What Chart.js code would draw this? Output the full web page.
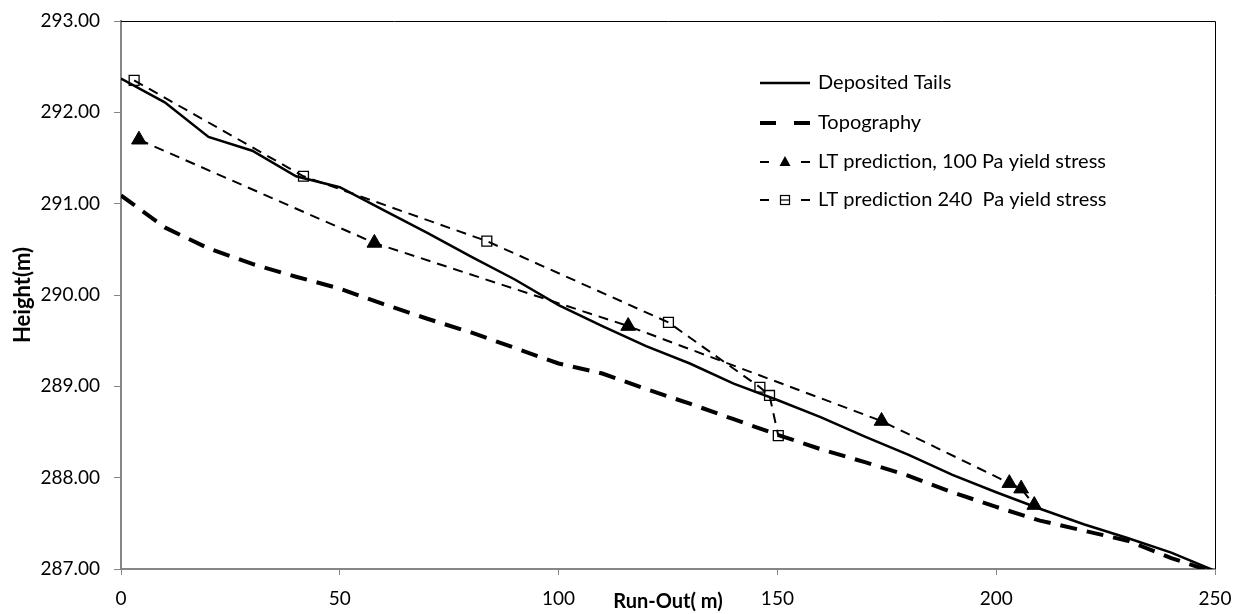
<!DOCTYPE html>
<html>
<head>
<meta charset="utf-8">
<script src="https://cdn.jsdelivr.net/npm/chart.js@4/dist/chart.umd.min.js"></script>
<style>
  html, body { margin: 0; padding: 0; background: #fff; }
  #wrap { width: 1235px; height: 614px; }
</style>
</head>
<body>
<div id="wrap"><canvas id="runout" width="1235" height="614"></canvas></div>
<script>
// values
const xTails = [0, 10, 20, 30, 40, 50, 60, 70, 80, 90, 100, 110, 120, 130, 140, 150, 160, 170, 180, 190, 200, 210, 220, 230, 240, 250];
const yTails = [292.37, 292.11, 291.73, 291.58, 291.30, 291.18, 290.93, 290.68, 290.42, 290.17, 289.89, 289.66, 289.44, 289.25, 289.03, 288.85, 288.66, 288.45, 288.25, 288.03, 287.84, 287.66, 287.49, 287.34, 287.18, 286.98];

const xTopo = [0, 10, 20, 30, 40, 50, 60, 70, 80, 90, 100, 110, 120, 130, 140, 150, 160, 170, 180, 190, 200, 210, 220, 230, 240, 250];
const yTopo = [291.09, 290.74, 290.51, 290.34, 290.20, 290.07, 289.90, 289.74, 289.59, 289.42, 289.25, 289.14, 288.97, 288.81, 288.64, 288.47, 288.31, 288.17, 288.02, 287.84, 287.68, 287.53, 287.42, 287.31, 287.12, 286.96];

const xLT100 = [4.1, 57.9, 115.9, 173.8, 203.0, 205.7, 208.7];
const yLT100 = [291.70, 290.57, 289.66, 288.62, 287.94, 287.88, 287.70];

const xLT240 = [3.0, 41.7, 83.6, 125.1, 146.0, 148.2, 150.2];
const yLT240 = [292.35, 291.30, 290.59, 289.70, 288.99, 288.90, 288.46];

const seriesNames = ['Deposited Tails', 'Topography', 'LT prediction, 100 Pa yield stress', 'LT prediction 240  Pa yield stress'];

const FONT = 'Lato, "Open Sans", sans-serif';
const AXIS_GREY = '#868686';

function pts(xs, ys) {
    return xs.map((x, i) => ({x: x, y: ys[i]}));
}

// draws the top/right frame of the plot area
const frame = {
    id: 'frame',
    afterDatasetsDraw(chart) {
        const a = chart.chartArea;
        const ctx = chart.ctx;
        ctx.save();
        ctx.strokeStyle = '#000';
        ctx.lineWidth = 1;
        ctx.beginPath();
        ctx.moveTo(a.left, a.top + 0.5);
        ctx.lineTo(a.right + 0.5, a.top + 0.5);
        ctx.lineTo(a.right + 0.5, a.bottom);
        ctx.stroke();
        ctx.restore();
    }
};

// legend inside the plot, Excel style (line sample + marker)
const boxLegend = {
    id: 'boxLegend',
    afterDraw(chart) {
        const a = chart.chartArea;
        const ctx = chart.ctx;
        const x0 = a.left + 639, x1 = x0 + 50, tx = x1 + 8;
        const rows = [a.top + 62, a.top + 102, a.top + 141, a.top + 179];
        ctx.save();
        chart.data.datasets.forEach((ds, i) => {
            const y = rows[i];
            ctx.strokeStyle = '#000';
            ctx.lineWidth = ds.borderWidth;
            ctx.beginPath();
            if (ds.borderDash && ds.borderDash.length) {
                // short dash at each end, gap in the middle
                const d = i === 1 ? 16 : 9;
                ctx.moveTo(x0, y); ctx.lineTo(x0 + d, y);
                ctx.moveTo(x1 - d, y); ctx.lineTo(x1, y);
            } else {
                ctx.moveTo(x0, y); ctx.lineTo(x1, y);
            }
            ctx.stroke();
            const mx = (x0 + x1) / 2;
            if (ds.pointStyle === 'triangle') {
                ctx.fillStyle = '#000';
                ctx.beginPath();
                ctx.moveTo(mx, y - 6);
                ctx.lineTo(mx + 5.5, y + 4);
                ctx.lineTo(mx - 5.5, y + 4);
                ctx.closePath();
                ctx.fill();
            } else if (ds.pointStyle === 'rect') {
                ctx.lineWidth = 1.2;
                ctx.strokeRect(mx - 4.5, y - 4.5, 9, 9);
                ctx.beginPath();
                ctx.moveTo(mx - 4.5, y); ctx.lineTo(mx + 4.5, y);
                ctx.stroke();
            }
            ctx.fillStyle = '#000';
            ctx.font = '20px ' + FONT;
            ctx.textBaseline = 'middle';
            ctx.textAlign = 'left';
            ctx.fillText(ds.label, tx, y);
        });
        ctx.restore();
    }
};

const ctx = document.getElementById('runout').getContext('2d');

new Chart(ctx, {
    type: 'scatter',
    data: {
        datasets: [
            {
                label: seriesNames[0],
                data: pts(xTails, yTails),
                showLine: true,
                borderColor: '#000',
                borderWidth: 2.5,
                pointRadius: 0,
                tension: 0
            },
            {
                label: seriesNames[1],
                data: pts(xTopo, yTopo),
                showLine: true,
                borderColor: '#000',
                borderWidth: 4,
                borderDash: [17, 10],
                pointRadius: 0,
                tension: 0
            },
            {
                label: seriesNames[2],
                data: pts(xLT100, yLT100),
                showLine: true,
                borderColor: '#000',
                borderWidth: 2,
                borderDash: [10, 7],
                pointStyle: 'triangle',
                pointRadius: 8.5,
                pointBackgroundColor: '#000',
                pointBorderColor: '#000',
                pointBorderWidth: 1,
                tension: 0
            },
            {
                label: seriesNames[3],
                data: pts(xLT240, yLT240),
                showLine: true,
                borderColor: '#000',
                borderWidth: 2,
                borderDash: [10, 7],
                pointStyle: 'rect',
                pointRadius: 7,
                pointBackgroundColor: 'rgba(0,0,0,0)',
                pointBorderColor: '#000',
                pointBorderWidth: 1.3,
                tension: 0
            }
        ]
    },
    options: {
        responsive: false,
        animation: false,
        layout: {
            padding: {left: 0, right: 20, top: 21, bottom: 0}
        },
        plugins: {
            legend: {display: false},
            tooltip: {enabled: false}
        },
        scales: {
            x: {
                type: 'linear',
                min: 0,
                max: 250,
                afterFit(scale) {
                    scale.height = 45;
                    scale.paddingLeft = 0;
                    scale.paddingRight = 0;
                },
                ticks: {
                    stepSize: 50,
                    color: '#000',
                    padding: 12,
                    maxRotation: 0,
                    font: {family: FONT, size: 19}
                },
                grid: {
                    drawOnChartArea: false,
                    color: AXIS_GREY,
                    tickLength: 6
                },
                border: {color: AXIS_GREY, width: 2},
                title: {
                    display: true,
                    text: 'Run-Out( m)',
                    color: '#000',
                    padding: {top: -14, bottom: 0},
                    font: {family: FONT, size: 20, weight: 'bold'}
                }
            },
            y: {
                min: 287,
                max: 293,
                afterFit(scale) {
                    scale.width = 121;
                    scale.paddingTop = 0;
                    scale.paddingBottom = 0;
                },
                ticks: {
                    stepSize: 1,
                    color: '#000',
                    padding: 14,
                    font: {family: FONT, size: 19},
                    callback: v => Number(v).toFixed(2)
                },
                grid: {
                    drawOnChartArea: false,
                    color: AXIS_GREY,
                    tickLength: 7
                },
                border: {color: AXIS_GREY, width: 2},
                title: {
                    display: true,
                    text: 'Height(m)',
                    color: '#000',
                    padding: {top: 10, bottom: 0},
                    font: {family: FONT, size: 22, weight: 'bold'}
                }
            }
        }
    },
    plugins: [frame, boxLegend]
});
</script>
</body>
</html>
